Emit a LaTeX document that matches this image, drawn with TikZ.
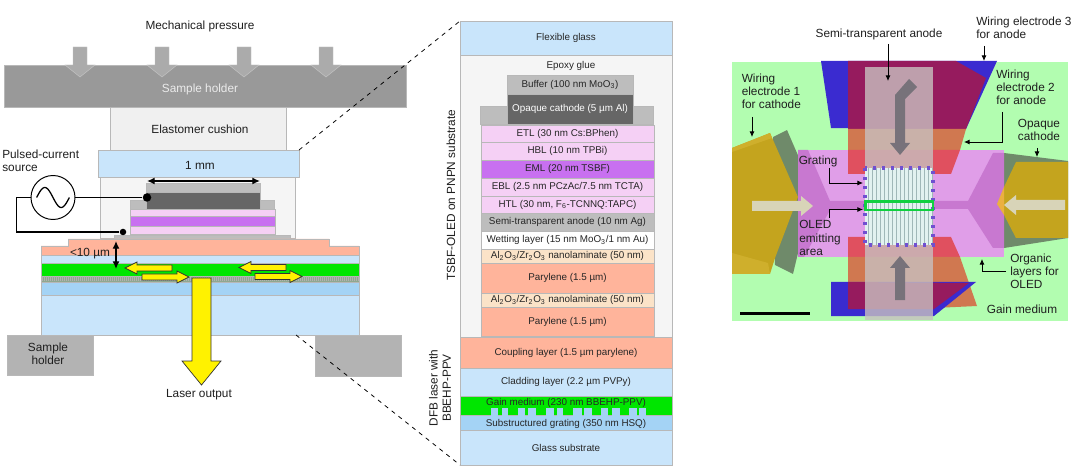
\documentclass[tikz,border=0pt]{standalone}
\usepackage{fontspec}
\setmainfont{Liberation Sans}
\usepackage{xcolor}
\usetikzlibrary{arrows.meta}

\definecolor{holderdark}{HTML}{999999}
\definecolor{holderlight}{HTML}{B3B3B3}
\definecolor{pressgray}{HTML}{ABABAB}
\definecolor{cushion}{HTML}{F0F0F0}
\definecolor{glassblue}{HTML}{C9E5FB}
\definecolor{hsqblue}{HTML}{A4D3F5}
\definecolor{epoxy}{HTML}{F5F5F5}
\definecolor{buffergray}{HTML}{BDBDBD}
\definecolor{cathodegray}{HTML}{666666}
\definecolor{orgpink}{HTML}{F5D0F5}
\definecolor{emlpurple}{HTML}{C870F0}
\definecolor{nanopeach}{HTML}{FBE3C8}
\definecolor{parylene}{HTML}{FFB49B}
\definecolor{gainmedium}{HTML}{00E600}
\definecolor{gratinghatch}{HTML}{8FA890}
\definecolor{bggreen}{HTML}{B2FDB0}
\definecolor{elecblue}{HTML}{3A2BD0}
\definecolor{crimson}{HTML}{961B5E}
\definecolor{elecorange}{HTML}{D07850}
\definecolor{elecred}{HTML}{E0505F}
\definecolor{oledpink}{HTML}{E09EE8}
\definecolor{oleddark}{HTML}{C878D0}
\definecolor{wireyellow}{HTML}{C4A41E}
\definecolor{wirelight}{HTML}{CFAF2C}
\definecolor{wiregray}{HTML}{6F8A6A}
\definecolor{flashorange}{HTML}{EBB040}
\definecolor{arrowcream}{HTML}{D8D4B8}
\definecolor{anodefill}{HTML}{C8C0C0}
\definecolor{anodearrow}{HTML}{77727A}
\definecolor{dotviolet}{HTML}{7050D0}
\definecolor{oledgreen}{HTML}{10D040}
\definecolor{gratefill}{HTML}{E2F2F0}
\definecolor{gratelines}{HTML}{A0B8B8}

\tikzset{
	stack/.style={inner sep=0pt,outer sep=0pt,draw=black!28,line width=0.3pt,font=\fontsize{7}{8.4}\selectfont,text=black!85},
	lbl/.style={inner sep=0pt,font=\fontsize{8.4}{9.3}\selectfont,text=black!88},
	lblsmall/.style={inner sep=0pt,font=\fontsize{7}{8.4}\selectfont,text=black!85},
	wire/.style={line width=1.1pt},
	conn/.style={-{Latex[length=4pt,width=3.5pt]},line width=0.55pt},
	dim/.style={{Latex[length=5.5pt,width=5pt]}-{Latex[length=5.5pt,width=5pt]},line width=1pt},
	zoomline/.style={dashed,dash pattern=on 3pt off 3.2pt,line width=0.55pt},
	pressarrow/.style={fill=pressgray,draw=black!22,line width=0.3pt},
	laser/.style={fill=yellow,draw=black!80,line width=0.5pt}
}

\begin{document}
\begin{tikzpicture}[x=0.025cm,y=-0.025cm]
	\useasboundingbox (0,0) rectangle (1080,472);
	\fill [white] (0,0) rectangle (1080,472);

	% left panel: device in the press
	\foreach \nm/\xa/\xb/\ya/\yb/\col/\txt in {
		holdertop/4/406/65/107/holderdark/{},
		cushionbox/110/286/107/150/cushion/{},
		epoxyleft/100/295/177/238/epoxy/{},
		glassflex/98/299/150/177/glassblue/{},
		sideleft/130/274/200/209/buffergray/{},
		bufferleft/146/260/183/192/buffergray/{},
		cathleft/146/260/192/209/cathodegray/{},
		orgtop/130/275/209/216/orgpink/{},
		orgmid/130/275/216/226/emlpurple/{},
		orgbot/130/275/226/234/orgpink/{},
		anodeleft/114/290/235/239/buffergray/{},
		cladleft/41/359/255/263/glassblue/{},
		gainleft/41/359/263/276/gainmedium/{},
		hatchleft/41/359/276/282/gratinghatch/{},
		hsqleft/41/359/282/295/hsqblue/{},
		subleft/41/359/295/335/glassblue/{},
		holderbl/7/93/335/375/holderlight/{},
		holderbr/315/401/335/376/holderlight/{}
	} {
		\node [stack,fill=\col,minimum width={(\xb-\xa)*0.025cm},minimum height={(\yb-\ya)*0.025cm}] (\nm) at ({(\xa+\xb)/2},{(\ya+\yb)/2}) {\txt};
	}
	\draw [fill=parylene,draw=black!28,line width=0.3pt] (41,255) -- (41,246) -- (68,246) -- (68,239) -- (329,239) -- (329,246) -- (359,246) -- (359,255) -- cycle;
	\foreach \hx in {42,44,...,358} {
		\draw [black!30,line width=0.25pt] (\hx,276.5) -- (\hx,281.5);
	}

	\foreach \px in {80,162,244,326} {
		\draw [pressarrow] (\px-7,47) -- (\px+7,47) -- (\px+7,65) -- (\px+15,65) -- (\px,77) -- (\px-15,65) -- (\px-7,65) -- cycle;
	}

	\node [lbl] (lblpress) at (200,26) {Mechanical pressure};
	\node [lbl,text=white!92!black] (lblholder) at (200,89) {Sample holder};
	\node [lbl] (lblcushion) at (200,129) {Elastomer cushion};
	\node [lbl] (lblmm) at (200,165) {1 mm};
	\node [lbl,align=center] (lblholderbl) at (48,354) {Sample\\holder};
	\node [lbl] (lbllaser) at (199,395) {Laser output};
	\node [lbl,align=left,anchor=west] (lblsource) at (2,161) {Pulsed-current\\source};
	\node [lbl] (lblgap) at (90,254) {<10 µm};

	\coordinate (mma) at (147,181);
	\coordinate (mmb) at (260,181);
	\draw [dim] (mma) -- (mmb);
	\coordinate (gapa) at (116,241);
	\coordinate (gapb) at (116,269);
	\draw [dim] (gapa) -- (gapb);

	\node [draw,circle,fill=white,line width=0.7pt,minimum size={44*0.025cm},inner sep=0pt] (source) at (53,197.5) {};
	\draw [line width=0.9pt,domain=-180:180,samples=40] plot ({53+\x/11},{197.5+10*sin(\x)});
	\node [circle,fill=black,minimum size={8.5*0.025cm},inner sep=0pt] (dotcathode) at (147,197.5) {};
	\node [circle,fill=black,minimum size={6.5*0.025cm},inner sep=0pt] (dotanode) at (123,232) {};
	\draw [wire] (source.east) -- (dotcathode);
	\draw [wire] (source.west) -- ++(-14,0) |- (dotanode);

	\foreach \tx/\ty/\dir in {125/268/1, 189/277/-1, 239/267.5/1, 302/276.5/-1} {
		\draw [laser] (\tx,\ty) -- ++(\dir*12,-6) -- ++(0,3) -- ++(\dir*35,0) -- ++(0,6) -- ++(-\dir*35,0) -- ++(0,3) -- cycle;
	}
	\draw [laser] (192,278) -- (211,278) -- (211,361) -- (221,361) -- (201.5,385) -- (182,361) -- (192,361) -- cycle;

	% middle panel: layer stack
	\foreach \nm/\xa/\xb/\ya/\yb/\col/\txt in {
		flexglass/460/672/21/55/glassblue/{Flexible glass},
		epoxybox/460/672/55/337/epoxy/{},
		sidecath/480/653/106/124/buffergray/{},
		buffer/507/633/75.5/94/buffergray/{Buffer (100 nm MoO\textsubscript{3})},
		cathode/507/633/94/124/cathodegray/{\color{white}Opaque cathode (5 µm Al)},
		etl/481/654/125/142/orgpink/{ETL (30 nm Cs:BPhen)},
		hbl/481/654/142/160/orgpink/{HBL (10 nm TPBi)},
		eml/481/654/160/178/emlpurple/{EML (20 nm TSBF)},
		ebl/481/654/178/196/orgpink/{EBL (2.5 nm PCzAc/7.5 nm TCTA)},
		htl/481/654/196/213/orgpink/{HTL (30 nm, F\textsubscript{6}-TCNNQ:TAPC)},
		anode/481/654/213/231/buffergray/{Semi-transparent anode (10 nm Ag)},
		wetting/481/654/231/249/white/{Wetting layer (15 nm MoO\textsubscript{3}/1 nm Au)},
		nanoa/481/654/249/263/nanopeach/{Al\textsubscript{2}O\textsubscript{3}/Zr\textsubscript{2}O\textsubscript{3} nanolaminate (50 nm)},
		parya/481/654/263/293/parylene/{Parylene (1.5 µm)},
		nanob/481/654/293/307/nanopeach/{Al\textsubscript{2}O\textsubscript{3}/Zr\textsubscript{2}O\textsubscript{3} nanolaminate (50 nm)},
		paryb/481/654/307/336/parylene/{Parylene (1.5 µm)},
		coupling/460/672/337/368/parylene/{Coupling layer (1.5 µm parylene)},
		cladding/460/672/368/396/glassblue/{Cladding layer (2.2 µm PVPy)},
		gain/460/672/396/415/gainmedium/{},
		grating/460/672/415/430/hsqblue/{},
		substrate/460/672/430/465/glassblue/{Glass substrate}
	} {
		\node [stack,fill=\col,minimum width={(\xb-\xa)*0.025cm},minimum height={(\yb-\ya)*0.025cm}] (\nm) at ({(\xa+\xb)/2},{(\ya+\yb)/2}) {\txt};
	}
	\foreach \xa/\xb in {491/498, 502/508, 518/525, 528/536, 546/554, 557/563, 573/582, 584/592, 601/608, 612/620, 629/637, 639/646} {
		\fill [hsqblue] (\xa,408) rectangle (\xb,415.5);
	}
	\node [lblsmall] (lblepoxy) at (571,66) {Epoxy glue};
	\node [lblsmall] (lblgain) at (566,402.5) {Gain medium (230 nm BBEHP-PPV)};
	\node [lblsmall] (lblhsq) at (566,424) {Substructured grating (350 nm HSQ)};
	\node [lbl,rotate=90] (lbltsbf) at (451,195) {TSBF-OLED on PNPN substrate};
	\node [lbl,rotate=90,align=center] (lbldfb) at (440,388) {DFB laser with\\BBEHP-PPV};

	\draw [zoomline] (glassflex.north east) -- (flexglass.north west);
	\coordinate (subcorner) at (296,335);
	\draw [zoomline] (subcorner) -- (substrate.south west);

	% right panel: top view
	\fill [bggreen] (732,62) rectangle (1068,321);
	\fill [wiregray] (773,137) -- (787,130) -- (800,160) -- (798,253) -- (793,274) -- (775,265) -- cycle;
	\fill [wiregray] (1004,153) -- (1068,161) -- (1068,238) -- (1004,248) -- cycle;
	\fill [elecblue] (821,61) -- (997,61) -- (966,129) -- (831,128) -- cycle;
	\fill [crimson] (848,61) -- (956,61) -- (986,78) -- (966,129) -- (848,129) -- cycle;
	\fill [elecorange] (848,129) -- (966,129) -- (960,150) -- (848,150) -- cycle;
	\fill [oledpink] (798,150) rectangle (1004,257);
	\fill [elecred] (848,150) -- (960,150) -- (951,174) -- (848,174) -- cycle;
	\fill [elecred] (848,237) -- (951,237) -- (960,257) -- (848,257) -- cycle;
	\fill [oleddark] (798,150) -- (808,150) -- (830,201) -- (865,201) -- (865,210) -- (830,210) -- (804,257) -- (798,257) -- cycle;
	\fill [oleddark] (1004,153) -- (993,153) -- (968,201) -- (933,201) -- (933,209) -- (968,209) -- (993,248) -- (1004,248) -- cycle;
	\fill [elecorange] (848,257) -- (960,257) -- (977,306) -- (934,308) -- (848,309) -- cycle;
	\fill [elecblue] (831,282) -- (976,282) -- (934,316) -- (831,316) -- cycle;
	\fill [crimson] (848,282) -- (969,283) -- (934,309) -- (848,309) -- cycle;
	\fill [wireyellow] (732,148) -- (770,133) -- (798,197) -- (775,258) -- (770,274) -- (732,274) -- cycle;
	\fill [wirelight] (732,253) -- (768,263) -- (770,274) -- (732,274) -- cycle;
	\fill [wirelight] (732,148) -- (770,133) -- (772,138) -- (732,152) -- cycle;
	\fill [wireyellow] (1016,162) -- (1068,162) -- (1068,238) -- (1016,238) -- (1004,215) -- (1004,187) -- cycle;
	\fill [flashorange] (1004,187) -- (997,204) -- (1004,215) -- cycle;
	\fill [anodefill,opacity=0.8] (865,67) rectangle (933,320);

	\fill [anodearrow] (909,79) -- (917,87) -- (905,99) -- (905,143) -- (910,143) -- (900,155) -- (890,143) -- (895,143) -- (895,95) -- cycle;
	\fill [anodearrow] (900,256) -- (910,268) -- (905,268) -- (905,300) -- (895,300) -- (895,268) -- (890,268) -- cycle;
	\foreach \tx/\ty/\dir in {813/206/-1, 1004/205/1} {
		\fill [arrowcream] (\tx,\ty) -- ++(\dir*12,-10) -- ++(0,5) -- ++(\dir*49,0) -- ++(0,10) -- ++(-\dir*49,0) -- ++(0,5) -- cycle;
	}

	\fill [gratefill] (865,168) rectangle (933,245);
	\foreach \gx in {868,872,...,932} {
		\draw [gratelines,line width=0.55pt] (\gx,168) -- (\gx,245);
	}
	\draw [dotviolet,line width=2.2pt,dash pattern=on 2.2pt off 4.2pt] (865,168) rectangle (933,245);
	\draw [oledgreen,line width=1.8pt] (865.5,201.5) rectangle (933,210);
	\node [fill=black,inner sep=0pt,minimum width={70*0.025cm},minimum height={3.5*0.025cm}] (scalebar) at (775,313.7) {};

	\node [lbl] (lblsemi) at (879,34) {Semi-transparent anode};
	\node [lbl,align=left,anchor=west] (lblwirec) at (976,28) {Wiring electrode 3\\for anode};
	\node [lbl,align=left,anchor=west] (lblwirea) at (741.5,91) {Wiring\\electrode 1\\for cathode};
	\node [lbl,align=left,anchor=west] (lblwireb) at (996,87) {Wiring\\electrode 2\\for anode};
	\node [lbl,align=center] (lblopaque) at (1039,130) {Opaque\\cathode};
	\node [lbl,anchor=west] (lblgrating) at (798.5,161) {Grating};
	\node [lbl,align=left,anchor=west] (lbloled) at (799,238) {OLED\\emitting\\area};
	\node [lbl,align=left,anchor=west] (lblorganic) at (1010,271) {Organic\\layers for\\OLED};
	\node [lbl] (lblgainmed) at (1022,309.5) {Gain medium};

	\coordinate (semia) at (888,44);
	\coordinate (semib) at (888,81);
	\draw [conn] (semia) -- (semib);
	\coordinate (wirea) at (984,46);
	\coordinate (wireb) at (984,61);
	\draw [conn] (wirea) -- (wireb);
	\coordinate (wirec) at (752,117);
	\coordinate (wired) at (752,137);
	\draw [conn] (wirec) -- (wired);
	\coordinate (wiree) at (1002,112);
	\coordinate (wiref) at (964,142);
	\draw [conn] (wiree) |- (wiref);
	\coordinate (opaquea) at (1037,148);
	\coordinate (opaqueb) at (1037,157);
	\draw [conn] (opaquea) -- (opaqueb);
	\coordinate (gratea) at (829,168);
	\coordinate (grateb) at (863,183);
	\draw [conn] (gratea) |- (grateb);
	\coordinate (oleda) at (829,218);
	\coordinate (oledb) at (863,209.5);
	\draw [conn] (oleda) |- (oledb);
	\coordinate (orga) at (1006,271.5);
	\coordinate (orgb) at (982,259);
	\draw [conn] (orga) -| (orgb);
\end{tikzpicture}
\end{document}
